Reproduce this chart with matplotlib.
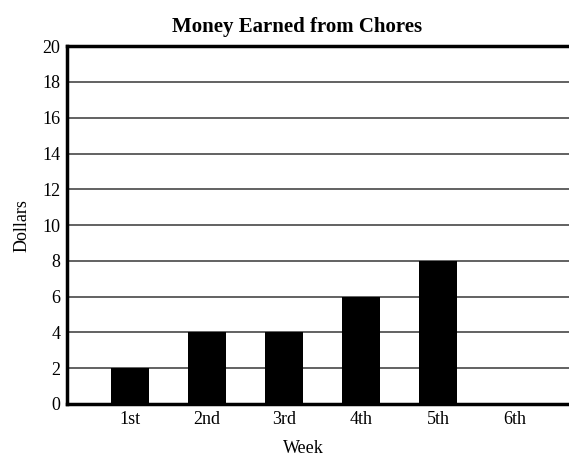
import matplotlib
matplotlib.use('Agg')
import matplotlib.pyplot as plt
import numpy as np

weeks = ['1st', '2nd', '3rd', '4th', '5th', '6th']
dollars = [2, 4, 4, 6, 8, 0]
y_ticks = [0, 2, 4, 6, 8, 10, 12, 14, 16, 18, 20]

plt.rcParams['font.family'] = ['Liberation Serif', 'DejaVu Serif']

fig = plt.figure(figsize=(5.69, 4.57), dpi=100)
ax = fig.add_axes([0.118, 0.116, 0.882, 0.783])

x = np.arange(len(weeks))
ax.bar(x, dollars, width=0.49, color='black', zorder=3)

ax.set_xlim(-0.82, 5.7)
ax.set_ylim(0, 20)
ax.set_yticks(y_ticks)
ax.set_xticks(x)
ax.set_xticklabels(weeks)
ax.tick_params(length=0, labelsize=13, pad=5)
ax.yaxis.grid(True, color='#555555', linewidth=1.3, zorder=1)

for s in ['left', 'bottom', 'top']:
    ax.spines[s].set_linewidth(2.5)
ax.spines['right'].set_visible(False)

# title sits a bit left of the axes centre in the original
fig.text(0.522, 0.94, 'Money Earned from Chores', fontsize=15, fontweight='bold',
         ha='center', va='center')
ax.set_ylabel('Dollars', fontsize=13, labelpad=8)
ax.set_xlabel('Week', fontsize=13, labelpad=8)
ax.xaxis.set_label_coords(0.47, -0.1)

fig.savefig('out.png', dpi=100)
